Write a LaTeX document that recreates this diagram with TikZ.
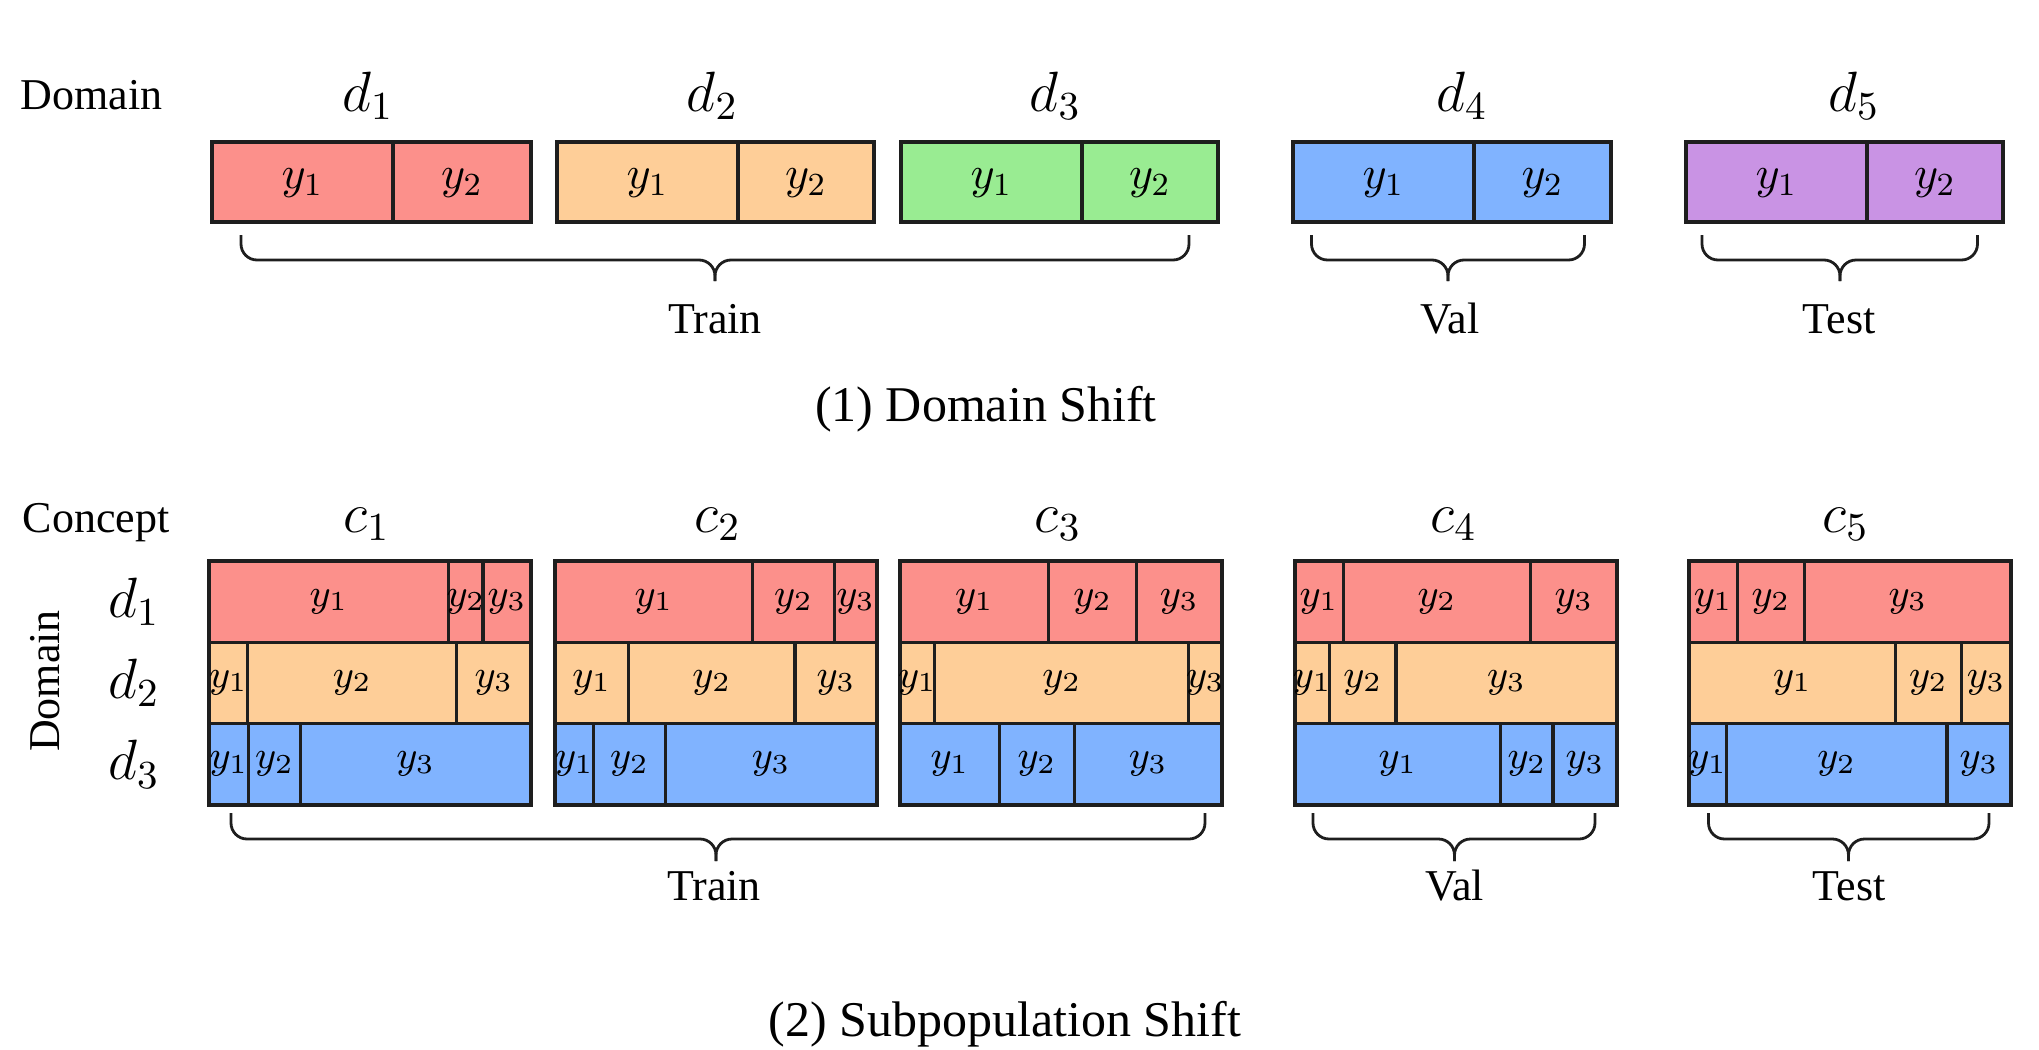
\RequirePackage{fix-cm}
\documentclass[tikz,border=0pt]{standalone}
\usepackage[no-math]{fontspec}
\setmainfont{Liberation Serif}
\definecolor{cred}{RGB}{252,144,139}
\definecolor{corange}{RGB}{254,206,152}
\definecolor{cgreen}{RGB}{153,236,146}
\definecolor{cblue}{RGB}{128,179,255}
\definecolor{cpurple}{RGB}{201,147,228}
\definecolor{bordc}{RGB}{30,30,30}
\tikzset{
  box/.style={draw=bordc, line width=0.8pt},
  ylab/.style={inner sep=0pt, font=\fontsize{11.5pt}{13pt}\selectfont},
  ylabs/.style={inner sep=0pt, font=\fontsize{9.8pt}{11pt}\selectfont},
  biglab/.style={inner sep=0pt, anchor=base, font=\fontsize{14.2pt}{16pt}\selectfont},
  lab/.style={inner sep=0pt, font=\fontsize{11pt}{13pt}\selectfont},
  caplab/.style={inner sep=0pt, anchor=base, font=\fontsize{12.5pt}{15pt}\selectfont},
  bracest/.style={draw=bordc, line width=0.7pt, rounded corners=4pt},
}
% top two-cell box: name, colour, x0, xdiv, x1
\newcommand\twobox[5]{%
  \draw[box, fill=#2] (#3,142) rectangle (#4,222);
  \draw[box, fill=#2] (#4,142) rectangle (#5,222);
  \node[ylab] (#1a) at ({(#3+#4)/2},183) {$y_1$};
  \node[ylab] (#1b) at ({(#4+#5)/2},183) {$y_2$};
}
% bottom three-cell row: name, colour, ytop, ybot, x0, x1, x2, x3
\newcommand\threerow[8]{%
  \draw[box, fill=#2] (#5,#3) rectangle (#6,#4);
  \draw[box, fill=#2] (#6,#3) rectangle (#7,#4);
  \draw[box, fill=#2] (#7,#3) rectangle (#8,#4);
  \node[ylabs] (#1a) at ({(#5+#6)/2},{(#3+#4)/2}) {$y_1$};
  \node[ylabs] (#1b) at ({(#6+#7)/2},{(#3+#4)/2}) {$y_2$};
  \node[ylabs] (#1c) at ({(#7+#8)/2},{(#3+#4)/2}) {$y_3$};
}
% brace: name, xl, xr, xtip, ytop, ymid, ybot
\newcommand\mybrace[7]{%
  \coordinate (#1l) at (#2,#5);
  \coordinate (#1r) at (#3,#5);
  \coordinate (#1m) at (#4,#6);
  \coordinate (#1t) at (#4,#7);
  \draw[bracest] (#1l) |- (#1m) -- (#1t);
  \draw[bracest] (#1r) |- (#1m) -- (#1t);
}
\begin{document}
\begin{tikzpicture}[x=0.25pt, y=-0.25pt]
\useasboundingbox (0,0) rectangle (2039,1050);

% ---------- (1) Domain shift ----------
\node[lab, anchor=base west] (domlab) at (20,109) {Domain};
\node[biglab] (dA) at (368,111) {$d_1$};
\node[biglab] (dB) at (712.5,111) {$d_2$};
\node[biglab] (dC) at (1055.5,111) {$d_3$};
\node[biglab] (dD) at (1462,111) {$d_4$};
\node[biglab] (dE) at (1854,111) {$d_5$};

\twobox{tA}{cred}{212}{393}{531}
\twobox{tB}{corange}{557}{738}{874}
\twobox{tC}{cgreen}{901}{1082}{1218}
\twobox{tD}{cblue}{1293}{1474}{1611}
\twobox{tE}{cpurple}{1686}{1867}{2003}

\mybrace{brA}{241}{1189}{715}{235}{260}{281}
\mybrace{brB}{1311.5}{1584.5}{1448}{235}{260}{281}
\mybrace{brC}{1702}{1977.5}{1840}{235}{260}{281}

\node[lab, anchor=base] (trainA) at (715,333) {Train};
\node[lab, anchor=base] (valA) at (1450,333) {Val};
\node[lab, anchor=base] (testA) at (1839,333) {Test};

\node[caplab] (capA) at (986,421) {(1) Domain Shift};

% ---------- (2) Subpopulation shift ----------
\node[lab, anchor=base west] (conlab) at (22,532) {Concept};
\node[biglab] (cA) at (366.5,532) {$c_1$};
\node[biglab] (cB) at (717.5,532) {$c_2$};
\node[biglab] (cC) at (1058,532) {$c_3$};
\node[biglab] (cD) at (1453.5,532) {$c_4$};
\node[biglab] (cE) at (1845.5,532) {$c_5$};

\node[lab, rotate=90] (domv) at (45,681) {Domain};
\node[inner sep=0pt, font=\fontsize{14.2pt}{16pt}\selectfont] (rA) at (134,602) {$d_1$};
\node[inner sep=0pt, font=\fontsize{14.2pt}{16pt}\selectfont] (rB) at (134,683) {$d_2$};
\node[inner sep=0pt, font=\fontsize{14.2pt}{16pt}\selectfont] (rC) at (134,764.5) {$d_3$};

% c1
\threerow{aA}{cred}{561}{642.3}{209}{448.7}{483}{531}
\threerow{aB}{corange}{642.3}{723.7}{209}{247.8}{456.7}{531}
\threerow{aC}{cblue}{723.7}{805}{209}{248.7}{300.4}{531}
% c2
\threerow{bA}{cred}{561}{642.3}{555}{752.7}{834.4}{877}
\threerow{bB}{corange}{642.3}{723.7}{555}{628.6}{795}{877}
\threerow{bC}{cblue}{723.7}{805}{555}{593.8}{665.2}{877}
% c3
\threerow{gA}{cred}{561}{642.3}{900}{1048.7}{1136.6}{1222}
\threerow{gB}{corange}{642.3}{723.7}{900}{934.8}{1188.8}{1222}
\threerow{gC}{cblue}{723.7}{805}{900}{999.6}{1074.1}{1222}
% c4
\threerow{hA}{cred}{561}{642.3}{1295}{1343.1}{1530.8}{1617}
\threerow{hB}{corange}{642.3}{723.7}{1295}{1329.5}{1396}{1617}
\threerow{hC}{cblue}{723.7}{805}{1295}{1500.6}{1553}{1617}
% c5
\threerow{kA}{cred}{561}{642.3}{1689}{1737.2}{1804.6}{2011}
\threerow{kB}{corange}{642.3}{723.7}{1689}{1895.7}{1961.1}{2011}
\threerow{kC}{cblue}{723.7}{805}{1689}{1726.1}{1947}{2011}

\mybrace{brD}{231}{1205}{716}{813}{839}{861}
\mybrace{brE}{1313}{1595}{1454.5}{813}{839}{861}
\mybrace{brF}{1708.5}{1989}{1848.5}{813}{839}{861}

\node[lab, anchor=base] (trainB) at (714,900) {Train};
\node[lab, anchor=base] (valB) at (1454.5,900) {Val};
\node[lab, anchor=base] (testB) at (1849,900) {Test};

\node[caplab] (capB) at (1005,1036) {(2) Subpopulation Shift};
\end{tikzpicture}
\end{document}
